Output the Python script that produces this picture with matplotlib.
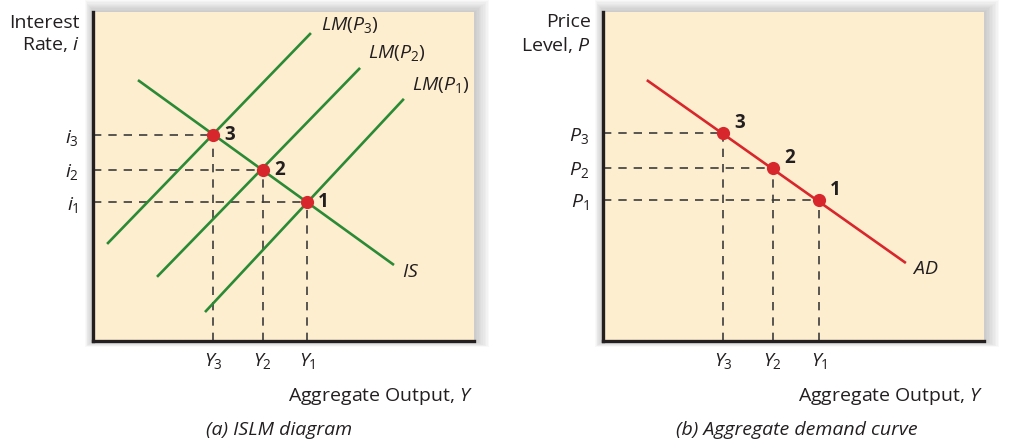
import matplotlib
matplotlib.use('Agg')
import matplotlib.pyplot as plt
from matplotlib.patches import Rectangle

plt.rcParams['font.family'] = ['Open Sans', 'DejaVu Sans']
plt.rcParams['mathtext.fontset'] = 'custom'
plt.rcParams['mathtext.it'] = 'Open Sans:italic'
plt.rcParams['mathtext.rm'] = 'Open Sans'

# --- data (0..100 axis units) ---
# (a) IS-LM
is_x = [11.8, 79.0]
is_y = [79.3, 23.1]
lm1_x = [29.4, 81.6]
lm1_y = [8.8, 73.6]
lm2_x = [16.8, 70.1]
lm2_y = [19.5, 83.0]
lm3_x = [3.7, 57.2]
lm3_y = [29.5, 93.6]
eq_y = [56.2, 44.6, 31.5]      # Y1, Y2, Y3
eq_i = [42.2, 52.0, 62.6]      # i1, i2, i3
eq_names = ['1', '2', '3']

# (b) aggregate demand
ad_x = [11.5, 79.5]
ad_y = [79.3, 23.7]
ad_pts_y = [56.7, 44.6, 31.5]
ad_pts_p = [42.9, 52.6, 63.2]

y_ticks = ['$Y_1$', '$Y_2$', '$Y_3$']
i_ticks = ['$i_1$', '$i_2$', '$i_3$']
p_ticks = ['$P_1$', '$P_2$', '$P_3$']

CREAM = '#fdeecf'
GREEN = '#2b8a36'
RED = '#d8262d'
DARK = '#231f20'
DASH = '#3c3c3c'
FS = 14

W, H = 1030, 440
fig = plt.figure(figsize=(W / 100, H / 100), dpi=100)
fig.patch.set_facecolor('white')


def px_rect(x0, y0, x1, y1):
    # pixel box (top-left origin) -> figure fraction
    return [x0 / W, 1 - y1 / H, (x1 - x0) / W, (y1 - y0) / H]


def shadow(x0, y0, x1, y1):
    for k in range(1, 11):
        r = px_rect(x0 - k * 0.8, y0 - k * 1.2, x1 + k * 1.5, y1 + k * 0.6)
        fig.patches.append(Rectangle((r[0], r[1]), r[2], r[3], transform=fig.transFigure,
                                     facecolor='#6e6e6e', edgecolor='none',
                                     alpha=0.04, zorder=-5))


def setup(box):
    shadow(*box)
    ax = fig.add_axes(px_rect(*box))
    ax.set_facecolor(CREAM)
    ax.set_xlim(0, 100)
    ax.set_ylim(0, 100)
    for s in ['top', 'right']:
        ax.spines[s].set_visible(False)
    for s in ['left', 'bottom']:
        ax.spines[s].set_color(DARK)
        ax.spines[s].set_linewidth(2.4)
    ax.tick_params(length=0, labelsize=FS, colors=DARK)
    ax.tick_params(axis='y', pad=10)
    ax.tick_params(axis='x', pad=7)
    return ax


def guides(ax, xs, ys):
    for x, y in zip(xs, ys):
        ax.plot([0, x], [y, y], color=DASH, lw=1.2, dashes=(5, 4.2), zorder=2)
        ax.plot([x, x], [0, y], color=DASH, lw=1.2, dashes=(5, 4.2), zorder=2)


# ---------- (a) ISLM diagram ----------
ax1 = setup((93, 12, 474, 341))
guides(ax1, eq_y, eq_i)
for xs, ys in [(is_x, is_y), (lm1_x, lm1_y), (lm2_x, lm2_y), (lm3_x, lm3_y)]:
    ax1.plot(xs, ys, color=GREEN, lw=1.9, solid_capstyle='butt', zorder=3)
ax1.plot(eq_y, eq_i, 'o', color=RED, ms=9.5, mec='none', zorder=4)
for x, y, n in zip(eq_y, eq_i, eq_names):
    ax1.annotate(n, (x, y), xytext=(8, 0), textcoords='offset points', ha='left',
                 va='center', fontsize=13.5, fontweight='bold', color=DARK)
ax1.text(59.8, 96, '$LM(P_3)$', fontsize=FS, color=DARK, va='center')
ax1.text(72.2, 87.5, '$LM(P_2)$', fontsize=FS, color=DARK, va='center')
ax1.text(83.7, 77.8, '$LM(P_1)$', fontsize=FS, color=DARK, va='center')
ax1.text(81.1, 21, '$IS$', fontsize=FS, color=DARK, va='center')
ax1.set_xticks(eq_y, y_ticks)
ax1.set_yticks(eq_i, i_ticks)

# ---------- (b) Aggregate demand curve ----------
ax2 = setup((603, 12, 984, 341))
guides(ax2, ad_pts_y, ad_pts_p)
ax2.plot(ad_x, ad_y, color=RED, lw=1.9, solid_capstyle='butt', zorder=3)
ax2.plot(ad_pts_y, ad_pts_p, 'o', color=RED, ms=9.5, mec='none', zorder=4)
for x, y, n in zip(ad_pts_y, ad_pts_p, eq_names):
    ax2.annotate(n, (x, y), xytext=(8, 7), textcoords='offset points', ha='left',
                 va='center', fontsize=13.5, fontweight='bold', color=DARK)
ax2.text(81.1, 22, '$AD$', fontsize=FS, color=DARK, va='center')
ax2.set_xticks(ad_pts_y, y_ticks)
ax2.set_yticks(ad_pts_p, p_ticks)

# ---------- labels ----------
fig.text(80 / W, 1 - 34 / H, 'Interest\nRate, $i$', ha='right', va='center',
         fontsize=FS, color=DARK, linespacing=1.2)
fig.text(591 / W, 1 - 34 / H, 'Price\nLevel, $P$', ha='right', va='center',
         fontsize=FS, color=DARK, linespacing=1.2)
fig.text(474 / W, 1 - 396 / H, 'Aggregate Output, $Y$', ha='right', va='center',
         fontsize=FS, color=DARK)
fig.text(984 / W, 1 - 396 / H, 'Aggregate Output, $Y$', ha='right', va='center',
         fontsize=FS, color=DARK)
fig.text(279 / W, 1 - 430 / H, '(a) ISLM diagram', ha='center', va='center',
         fontsize=FS, style='italic', color=DARK)
fig.text(797 / W, 1 - 430 / H, '(b) Aggregate demand curve', ha='center', va='center',
         fontsize=FS, style='italic', color=DARK)

fig.savefig('out.png', dpi=100, facecolor=fig.get_facecolor())
